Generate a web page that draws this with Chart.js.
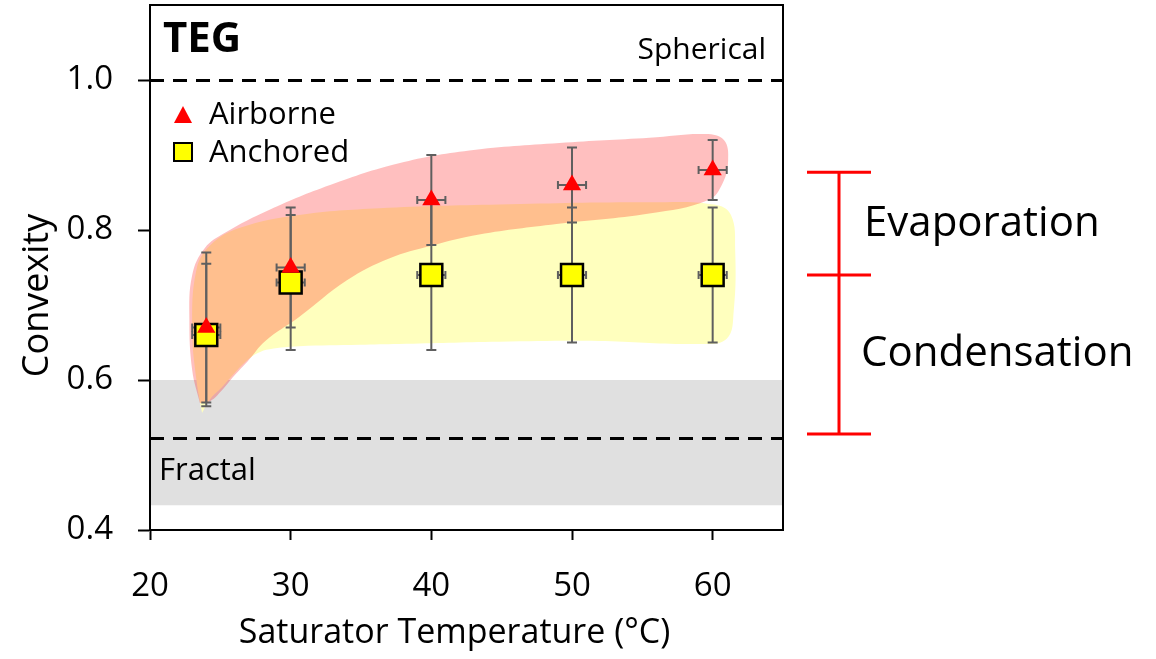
<!DOCTYPE html>
<html>
<head>
<meta charset="utf-8">
<script src="https://cdn.jsdelivr.net/npm/chart.js@4.4.0/dist/chart.umd.min.js"></script>
<style>
    html, body { margin: 0; padding: 0; background: #fff; }
    #wrap { width: 1156px; height: 659px; }
</style>
</head>
<body>
<div id="wrap"><canvas id="convexityChart"></canvas></div>
<script>
// measured points
const temperatures = [24, 30, 40, 50, 60];
const airborne = [0.67, 0.75, 0.84, 0.86, 0.88];
const airborneErrY = [0.10, 0.08, 0.06, 0.05, 0.04];
const anchored = [0.66, 0.73, 0.74, 0.74, 0.74];
const anchoredErrY = [0.095, 0.09, 0.10, 0.09, 0.09];
const tempErr = [1, 1, 1, 1, 1];

// axis ticks
const xTicks = [20, 30, 40, 50, 60];
const yTicks = [0.4, 0.6, 0.8, 1.0];

// reference levels
const sphericalLevel = 1.0;
const fractalLevel = 0.523;
const fractalBand = [0.433, 0.6];
const bracketLevels = [0.877, 0.74, 0.528];

// shaded zones (outline, data units)
const airborneZoneX = [23.55, 23.0, 22.8, 23.0, 23.9, 25.3, 28.5, 32.8, 37.7, 42.7, 49.1, 55.5, 59.5, 60.8, 61.1, 60.7, 59.7, 55.5, 48.9, 43.4, 40.0, 37.0, 34.0, 30.6, 28.2, 26.95, 26.0, 25.1, 24.3, 23.55];
const airborneZoneY = [0.569, 0.613, 0.68, 0.74, 0.776, 0.796, 0.827, 0.86, 0.889, 0.906, 0.916, 0.923, 0.928, 0.92, 0.893, 0.862, 0.84, 0.822, 0.808, 0.794, 0.779, 0.762, 0.733, 0.684, 0.652, 0.625, 0.606, 0.586, 0.572, 0.569];
const anchoredZoneX = [23.7, 23.3, 23.0, 23.3, 24.3, 26.4, 30.6, 36.3, 44.8, 55.5, 60.1, 61.3, 61.6, 61.5, 61.0, 59.0, 51.9, 44.8, 37.7, 34.9, 30.6, 28.5, 27.66, 26.95, 26.0, 25.1, 24.3, 23.7];
const anchoredZoneY = [0.556, 0.60, 0.667, 0.747, 0.78, 0.803, 0.82, 0.829, 0.834, 0.837, 0.834, 0.82, 0.773, 0.693, 0.655, 0.648, 0.652, 0.651, 0.648, 0.647, 0.645, 0.641, 0.636, 0.627, 0.609, 0.59, 0.575, 0.556];

const FONT = '"Open Sans", Lato, sans-serif';

function toPoints(xs, ys) {
    return xs.map((x, i) => ({ x: x, y: ys[i] }));
}

function drawErrorBars(ctx, x, y, values, errY, errX) {
    ctx.strokeStyle = '#5f5f5f';
    ctx.lineWidth = 2;
    for (let i = 0; i < temperatures.length; i++) {
        const px = x.getPixelForValue(temperatures[i]);
        const py = y.getPixelForValue(values[i]);
        const top = y.getPixelForValue(values[i] + errY[i]);
        const bot = y.getPixelForValue(values[i] - errY[i]);
        const left = x.getPixelForValue(temperatures[i] - errX[i]);
        const right = x.getPixelForValue(temperatures[i] + errX[i]);
        ctx.beginPath();
        ctx.moveTo(px, top); ctx.lineTo(px, bot);
        ctx.moveTo(px - 5, top); ctx.lineTo(px + 5, top);
        ctx.moveTo(px - 5, bot); ctx.lineTo(px + 5, bot);
        ctx.moveTo(left, py); ctx.lineTo(right, py);
        ctx.moveTo(left, py - 4); ctx.lineTo(left, py + 4);
        ctx.moveTo(right, py - 4); ctx.lineTo(right, py + 4);
        ctx.stroke();
    }
}

const decorPlugin = {
    id: 'decor',
    beforeDatasetsDraw(chart) {
        const { ctx, chartArea: a, scales: { y } } = chart;
        ctx.save();
        const bandTop = y.getPixelForValue(fractalBand[1]);
        const bandBot = y.getPixelForValue(fractalBand[0]);
        ctx.fillStyle = '#e0e0e0';
        ctx.fillRect(a.left, bandTop, a.right - a.left, bandBot - bandTop);
        ctx.strokeStyle = '#000';
        ctx.lineWidth = 3;
        ctx.setLineDash([14, 9]);
        [sphericalLevel, fractalLevel].forEach(v => {
            const py = Math.round(y.getPixelForValue(v)) + 0.5;
            ctx.beginPath();
            ctx.moveTo(a.left, py);
            ctx.lineTo(a.right, py);
            ctx.stroke();
        });
        ctx.restore();
    },
    afterDatasetDraw(chart, args) {
        if (args.index !== 2) return;
        const { ctx, scales: { x, y } } = chart;
        ctx.save();
        drawErrorBars(ctx, x, y, anchored, anchoredErrY, tempErr);
        drawErrorBars(ctx, x, y, airborne, airborneErrY, tempErr);
        ctx.restore();
    },
    afterDraw(chart) {
        const { ctx, chartArea: a, scales: { y } } = chart;
        ctx.save();
        // frame
        ctx.strokeStyle = '#000';
        ctx.lineWidth = 2;
        ctx.strokeRect(a.left, a.top, a.right - a.left, a.bottom - a.top);

        ctx.fillStyle = '#000';
        ctx.textBaseline = 'middle';
        ctx.font = 'bold 42px ' + FONT;
        ctx.textAlign = 'left';
        ctx.fillText('TEG', a.left + 13, a.top + 35);
        ctx.font = '30px ' + FONT;
        ctx.textAlign = 'right';
        ctx.fillText('Spherical', a.right - 17, a.top + 45);
        ctx.textAlign = 'left';
        ctx.font = '31px ' + FONT;
        ctx.fillText('Fractal', a.left + 9, y.getPixelForValue(fractalLevel) + 33);

        // legend
        ctx.font = '31px ' + FONT;
        const lx = a.left + 33;
        ctx.fillStyle = '#ff0000';
        ctx.beginPath();
        ctx.moveTo(lx, a.top + 101);
        ctx.lineTo(lx + 9, a.top + 118);
        ctx.lineTo(lx - 9, a.top + 118);
        ctx.closePath();
        ctx.fill();
        ctx.fillStyle = '#ffff00';
        ctx.fillRect(lx - 9, a.top + 138, 18, 18);
        ctx.lineWidth = 2;
        ctx.strokeRect(lx - 9, a.top + 138, 18, 18);
        ctx.fillStyle = '#000';
        ctx.fillText('Airborne', a.left + 59, a.top + 110);
        ctx.fillText('Anchored', a.left + 59, a.top + 148);

        // axis titles
        ctx.font = '34px ' + FONT;
        ctx.textAlign = 'center';
        ctx.fillText('Saturator Temperature (°C)', (a.left + a.right) / 2 - 12, a.bottom + 103);
        ctx.save();
        ctx.translate(38, (a.top + a.bottom) / 2 + 28);
        ctx.rotate(-Math.PI / 2);
        ctx.font = '36px ' + FONT;
        ctx.fillText('Convexity', 0, 0);
        ctx.restore();

        // bracket
        const bx = a.right + 56;
        const levels = bracketLevels.map(v => y.getPixelForValue(v));
        ctx.strokeStyle = '#ff0000';
        ctx.lineWidth = 3;
        ctx.beginPath();
        ctx.moveTo(bx, levels[0]);
        ctx.lineTo(bx, levels[2]);
        levels.forEach(py => { ctx.moveTo(bx - 32, py); ctx.lineTo(bx + 32, py); });
        ctx.stroke();
        ctx.fillStyle = '#000';
        ctx.font = '42px ' + FONT;
        ctx.textAlign = 'left';
        ctx.fillText('Evaporation', a.right + 81, (levels[0] + levels[1]) / 2);
        ctx.fillText('Condensation', a.right + 78, (levels[1] + levels[2]) / 2);
        ctx.restore();
    }
};

new Chart(document.getElementById('convexityChart'), {
    type: 'scatter',
    data: {
        datasets: [
            {
                label: 'Airborne',
                data: toPoints(temperatures, airborne),
                pointStyle: 'triangle',
                pointRadius: 10.5,
                backgroundColor: '#ff0000',
                borderColor: '#ff0000',
                borderWidth: 0
            },
            {
                label: 'Anchored',
                data: toPoints(temperatures, anchored),
                pointStyle: 'rect',
                pointRadius: 15.5,
                backgroundColor: '#ffff00',
                borderColor: '#000',
                borderWidth: 2.5
            },
            {
                label: 'Airborne zone',
                data: toPoints(airborneZoneX, airborneZoneY),
                showLine: true,
                tension: 0.4,
                fill: 'shape',
                pointRadius: 0,
                borderWidth: 0,
                borderColor: 'rgba(0,0,0,0)',
                backgroundColor: 'rgba(255,0,0,0.25)'
            },
            {
                label: 'Anchored zone',
                data: toPoints(anchoredZoneX, anchoredZoneY),
                showLine: true,
                tension: 0.4,
                fill: 'shape',
                pointRadius: 0,
                borderWidth: 0,
                borderColor: 'rgba(0,0,0,0)',
                backgroundColor: '#ffffbe'
            }
        ]
    },
    options: {
        responsive: true,
        maintainAspectRatio: false,
        animation: false,
        layout: { autoPadding: false, padding: { top: 5, right: 373, left: 0, bottom: 0 } },
        plugins: {
            legend: { display: false },
            tooltip: { enabled: false }
        },
        scales: {
            x: {
                type: 'linear',
                min: 20,
                max: 65,
                afterBuildTicks: s => { s.ticks = xTicks.map(v => ({ value: v })); },
                afterFit: s => { s.height = 129; s.paddingLeft = 0; s.paddingRight = 0; },
                grid: { drawOnChartArea: false, drawTicks: true, tickLength: 10, color: '#000', tickWidth: 2 },
                border: { display: true, color: '#000', width: 2 },
                ticks: { color: '#000', font: { family: FONT, size: 33 }, padding: 27 }
            },
            y: {
                type: 'linear',
                min: 0.4,
                max: 1.1,
                afterBuildTicks: s => { s.ticks = yTicks.map(v => ({ value: v })); },
                afterFit: s => { s.width = 150; s.paddingTop = 0; s.paddingBottom = 0; },
                grid: { drawOnChartArea: false, drawTicks: true, tickLength: 12, color: '#000', tickWidth: 2 },
                border: { display: true, color: '#000', width: 2 },
                ticks: { color: '#000', font: { family: FONT, size: 33 }, padding: 25, callback: v => v.toFixed(1) }
            }
        }
    },
    plugins: [decorPlugin]
});
</script>
</body>
</html>
